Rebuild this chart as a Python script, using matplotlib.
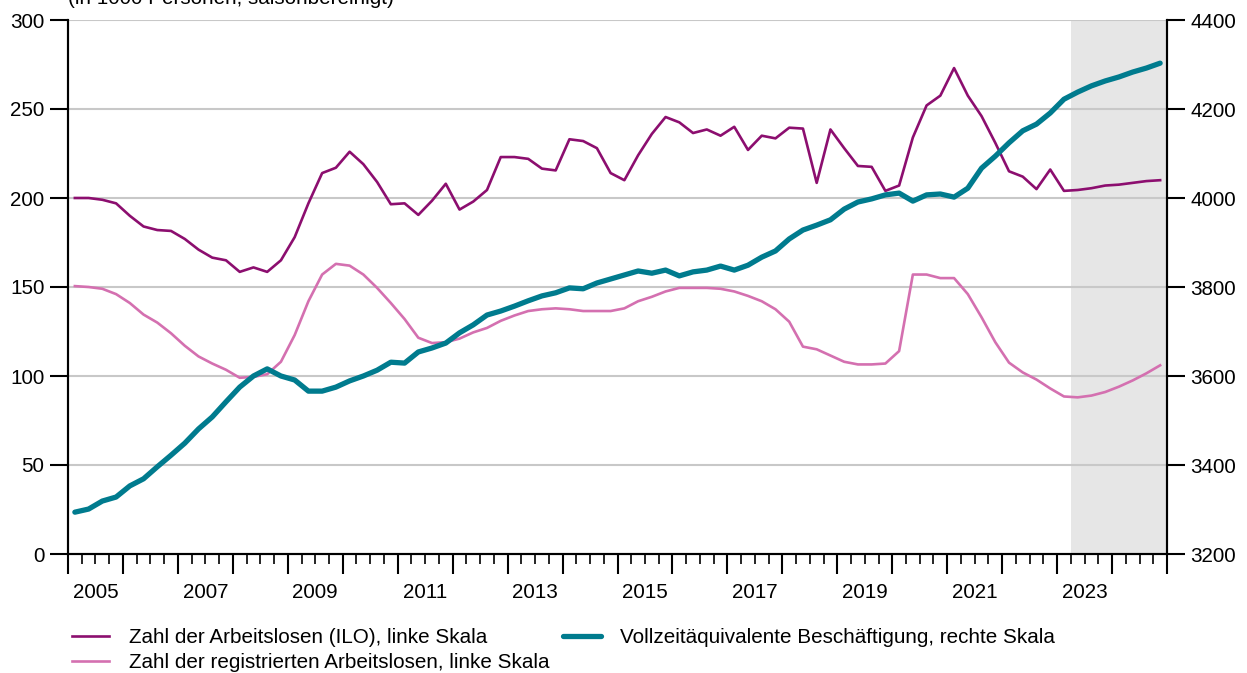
import matplotlib
matplotlib.use("Agg")
import matplotlib.pyplot as plt
import matplotlib.transforms as mtransforms
import numpy as np

plt.rcParams['font.family'] = ['Liberation Sans', 'DejaVu Sans']

# Quarterly data 2005Q1 .. 2024Q4
years_start = 2005
n_quarters = 80

ilo = [200, 200, 199, 197, 190, 184, 182, 181.5,
       177, 171, 166.5, 165, 158.5, 161, 158.5, 165,
       178, 197, 214, 217, 226, 219, 209, 196.5,
       197, 190.5, 198.5, 208, 193.5, 198, 204.5, 223,
       223, 222, 216.5, 215.5, 233, 232, 228, 214,
       210, 224, 236, 245.5, 242.5, 236.5, 238.5, 235,
       240, 227, 235, 233.5, 239.5, 239, 208.5, 238.5,
       228, 218, 217.5, 204, 207, 234, 252, 257.5,
       273, 257.5, 246, 231, 215, 212, 205, 216,
       204, 204.5, 205.5, 207, 207.5, 208.5, 209.5, 210]

registered = [150.5, 150, 149, 146, 141, 134.5, 130, 124,
              117, 111, 107, 103.5, 99, 99.5, 101, 108,
              123, 142, 157, 163, 162, 157, 149.5, 141,
              132, 121.5, 118.5, 119, 121, 124.5, 127, 131,
              134, 136.5, 137.5, 138, 137.5, 136.5, 136.5, 136.5,
              138, 142, 144.5, 147.5, 149.5, 149.5, 149.5, 149,
              147.5, 145, 142, 137.5, 130.5, 116.5, 115, 111.5,
              108, 106.5, 106.5, 107, 114, 157, 157, 155,
              155, 146, 133, 119, 107.5, 102, 98, 93,
              88.5, 88, 89, 91, 94, 97.5, 101.5, 106]

fte = [3294, 3301, 3319, 3328, 3353, 3369, 3396, 3422,
       3449, 3481, 3508, 3542, 3575, 3600, 3616, 3600,
       3591, 3566, 3566, 3575, 3589, 3600, 3613, 3631,
       3629, 3654, 3663, 3674, 3697, 3715, 3737, 3746,
       3757, 3769, 3780, 3787, 3798, 3796, 3809, 3818,
       3827, 3836, 3831, 3838, 3825, 3834, 3838, 3847,
       3838, 3849, 3867, 3881, 3908, 3928, 3939, 3951,
       3975, 3991, 3998, 4007, 4011, 3993, 4007, 4009,
       4002, 4022, 4067, 4094, 4124, 4151, 4166, 4191,
       4222, 4238, 4252, 4263, 4272, 4283, 4292, 4303]

label_years = [2005, 2007, 2009, 2011, 2013, 2015, 2017, 2019, 2021, 2023]
left_ticks = [0, 50, 100, 150, 200, 250, 300]
right_ticks = [3200, 3400, 3600, 3800, 4000, 4200, 4400]
forecast_start = 2023.25

series_labels = ["Zahl der Arbeitslosen (ILO), linke Skala",
                 "Zahl der registrierten Arbeitslosen, linke Skala",
                 "Vollzeitäquivalente Beschäftigung, rechte Skala"]
title = "(in 1000 Personen, saisonbereinigt)"

c_ilo = "#8c0e6f"
c_reg = "#d470b0"
c_fte = "#007b8e"

x = years_start + (np.arange(n_quarters) + 0.5) / 4.0

W, H = 1247, 673
fig = plt.figure(figsize=(W / 100, H / 100), dpi=100)
ax = fig.add_axes([68 / W, 1 - 554 / H, (1167 - 68) / W, (554 - 20) / H])
ax2 = ax.twinx()

fs = 14.9

ax.axvspan(forecast_start, years_start + n_quarters / 4, color="#e6e6e6", zorder=0, lw=0)
for t in left_ticks[1:]:
    ax.axhline(t, color="#c8c8c8", lw=1.5, zorder=0.5)

l1, = ax.plot(x, ilo, color=c_ilo, lw=1.9, zorder=3, label=series_labels[0])
l2, = ax.plot(x, registered, color=c_reg, lw=1.9, zorder=2, label=series_labels[1])
l3, = ax2.plot(x, fte, color=c_fte, lw=3.8, zorder=3, label=series_labels[2],
               solid_capstyle='round')

ax.set_xlim(years_start, years_start + n_quarters / 4)
ax.set_ylim(0, 300)
ax2.set_ylim(3200, 4400)

ax.set_yticks(left_ticks)
ax2.set_yticks(right_ticks)
ax.tick_params(axis='y', length=13, width=1.5, pad=4, labelsize=fs, direction='out')
ax2.tick_params(axis='y', length=13, width=1.5, pad=4, labelsize=fs, direction='out')

ax.set_xticks(np.arange(years_start, years_start + n_quarters / 4 + 1))
ax.set_xticks(np.arange(years_start, years_start + n_quarters / 4 + 0.01, 0.25), minor=True)
ax.set_xticklabels([])
ax.tick_params(axis='x', which='major', length=14.4, width=1.5, direction='out')
ax.tick_params(axis='x', which='minor', length=7.2, width=1.2, direction='out')

for a in (ax, ax2):
    a.spines['top'].set_visible(False)
    for s in ('left', 'right', 'bottom'):
        a.spines[s].set_linewidth(1.5)
        a.spines[s].set_color('black')

trans = mtransforms.blended_transform_factory(ax.transData, fig.transFigure)
for yr in label_years:
    ax.text(yr + 0.5, 1 - 592 / H, str(yr), transform=trans, ha='center', va='center', fontsize=fs)

fig.text(68 / W, 1 - 4 / H, title, ha='left', va='baseline', fontsize=fs)

leg = fig.legend(handles=[l1, l2, l3], loc='upper left', bbox_to_anchor=(72 / W, 1 - 628 / H),
                 ncol=2, frameon=False, fontsize=fs, handlelength=1.8, handletextpad=0.95,
                 columnspacing=0.67, labelspacing=0.3, borderpad=0, borderaxespad=0)

fig.savefig("out.png", dpi=100)
